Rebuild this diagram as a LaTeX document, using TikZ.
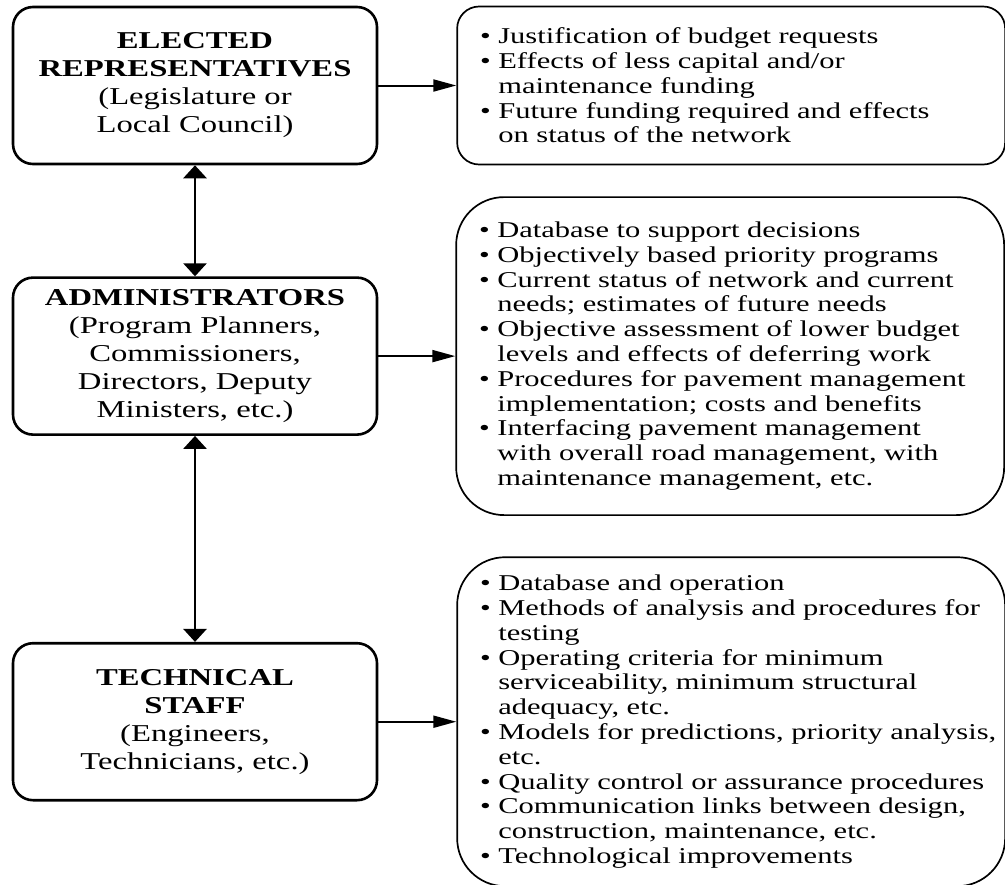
\documentclass[tikz,border=0pt]{standalone}
\usepackage{fontspec}
\setmainfont{Liberation Serif}[FakeStretch=1.35]
\usepackage{tikz}
\usetikzlibrary{
  arrows.meta,
  positioning
}
\tikzset{
  rolebox/.style={
    rectangle, rounded corners=10pt, draw=black, line width=1.3pt,
    minimum width=182pt, minimum height=78.5pt, align=center,
    inner sep=2pt, font=\fontsize{12.1}{14}\selectfont
  },
  infobox/.style={
    rectangle, rounded corners=24pt, draw=black, line width=0.85pt,
    minimum width=274pt, text width=251pt, inner xsep=11.5pt,
    align=left, font=\fontsize{11.3}{12.4}\selectfont
  },
  linkarrow/.style={
    {Triangle[width=11.5pt,length=6.5pt]}-{Triangle[width=11.5pt,length=6.5pt]},
    line width=1.4pt
  },
  feedarrow/.style={
    -{Triangle[length=11.5pt,width=6pt]}, line width=1pt
  },
}
\newcommand{\bitem}[1]{\mbox{\textbullet\ #1}}
\newcommand{\bcont}[1]{\mbox{\phantom{\textbullet\ }#1}}

\begin{document}
\begin{tikzpicture}
  \useasboundingbox (0,0) rectangle (502.5pt,-442pt);

  % left column
  \node[rolebox] (elected) at (97.5pt,-42.75pt)
    {\textbf{ELECTED}\\\textbf{REPRESENTATIVES}\\(Legislature or\\Local Council)};
  \node[rolebox, below=55.5pt of elected] (admin)
    {\textbf{ADMINISTRATORS}\\(Program Planners,\\Commissioners,\\Directors, Deputy\\Ministers, etc.)};
  \node[rolebox, below=103pt of admin] (tech)
    {\textbf{TECHNICAL}\\\textbf{STAFF}\\(Engineers,\\Technicians, etc.)};

  % right column
  \node[infobox, rounded corners=11pt, minimum height=79pt, right=39pt of elected] (needs1)
    {\bitem{Justification of budget requests}\\
     \bitem{Effects of less capital and/or}\\
     \bcont{maintenance funding}\\
     \bitem{Future funding required and effects}\\
     \bcont{on status of the network}};
  \node[infobox, minimum height=159pt, right=38.5pt of admin] (needs2)
    {\bitem{Database to support decisions}\\
     \bitem{Objectively based priority programs}\\
     \bitem{Current status of network and current}\\
     \bcont{needs; estimates of future needs}\\
     \bitem{Objective assessment of lower budget}\\
     \bcont{levels and effects of deferring work}\\
     \bitem{Procedures for pavement management}\\
     \bcont{implementation; costs and benefits}\\
     \bitem{Interfacing pavement management}\\
     \bcont{with overall road management, with}\\
     \bcont{maintenance management, etc.}};
  \node[infobox, minimum height=164.5pt, right=39pt of tech] (needs3)
    {\bitem{Database and operation}\\
     \bitem{Methods of analysis and procedures for}\\
     \bcont{testing}\\
     \bitem{Operating criteria for minimum}\\
     \bcont{serviceability, minimum structural}\\
     \bcont{adequacy, etc.}\\
     \bitem{Models for predictions, priority analysis,}\\
     \bcont{etc.}\\
     \bitem{Quality control or assurance procedures}\\
     \bitem{Communication links between design,}\\
     \bcont{construction, maintenance, etc.}\\
     \bitem{Technological improvements}};

  \draw[linkarrow] (elected.south) -- (admin.north);
  \draw[linkarrow] (admin.south) -- (tech.north);
  \draw[feedarrow] (elected.east) -- (needs1.west);
  \draw[feedarrow] (admin.east) -- (needs2.west);
  \draw[feedarrow] (tech.east) -- (needs3.west);
\end{tikzpicture}
\end{document}
